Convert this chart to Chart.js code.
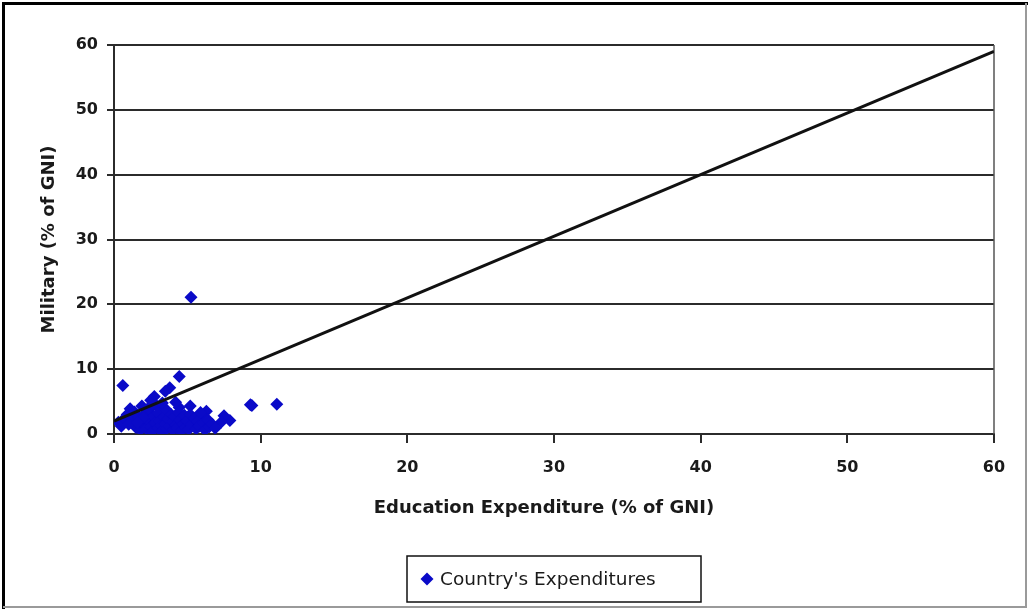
<!DOCTYPE html>
<html>
<head>
<meta charset="utf-8">
<script src="https://cdn.jsdelivr.net/npm/chart.js@4.4.1/dist/chart.umd.min.js"></script>
<style>
  html, body { margin: 0; padding: 0; background: #ffffff; overflow: hidden; }
  canvas { display: block; }
</style>
</head>
<body>
<canvas id="chart" width="1028" height="609"></canvas>
<script>
// Education spending vs. military spending, both as % of GNI, one entry per country
const educationPct = [
  5.25, 0.6, 4.45, 3.8, 3.5, 2.75, 2.5, 9.3, 9.4, 11.1,
  7.9, 7.5, 7.3, 5.2, 6.3, 6.0, 1.1, 1.9, 4.45, 3.2,
  0.3, 0.5, 0.7, 0.9, 1.2, 1.4, 1.5, 1.7, 1.8, 2.0,
  2.1, 2.2, 2.3, 2.4, 2.5, 2.6, 2.7, 2.8, 2.9, 3.0,
  3.0, 3.1, 3.2, 3.3, 3.4, 3.5, 3.5, 3.6, 3.7, 3.8,
  3.9, 4.0, 4.0, 4.1, 4.2, 4.3, 4.4, 4.5, 4.6, 4.7,
  4.8, 4.9, 5.0, 5.1, 5.2, 5.3, 5.5, 5.6, 5.7, 5.8,
  5.9, 6.1, 6.2, 6.4, 6.5, 6.7, 6.9, 2.0, 1.0, 1.6,
  3.3, 4.2, 2.6
];
const militaryPct = [
  21.1, 7.5, 8.85, 7.15, 6.6, 5.8, 5.2, 4.5, 4.4, 4.6,
  2.1, 2.8, 1.8, 4.3, 3.5, 2.8, 3.9, 4.3, 4.1, 3.6,
  1.8, 1.2, 2.4, 3.0, 2.0, 3.4, 1.0, 2.6, 0.6, 1.5,
  3.1, 0.8, 2.2, 3.8, 1.1, 0.4, 2.7, 1.7, 4.4, 0.9,
  3.2, 2.0, 1.3, 0.5, 2.6, 1.6, 3.9, 0.8, 2.3, 1.1,
  3.0, 0.6, 1.9, 2.7, 1.4, 0.9, 3.3, 2.2, 0.5, 1.6,
  2.9, 1.0, 2.0, 0.7, 3.0, 1.5, 2.4, 0.8, 1.9, 1.2,
  3.3, 1.7, 0.6, 2.2, 1.1, 1.5, 0.9, 2.5, 1.5, 1.8,
  4.8, 4.9, 4.6
];

// Reference line end points (education %, military %)
const refLineX = [0, 60];
const refLineY = [2, 59];

// Axis tick values
const xTicks = [0, 10, 20, 30, 40, 50, 60];
const yTicks = [0, 10, 20, 30, 40, 50, 60];

const seriesLabel = "Country's Expenditures";
const xTitle = 'Education Expenditure (% of GNI)';
const yTitle = 'Military (% of GNI)';

const FONT = '"DejaVu Sans", Verdana, sans-serif';
const BLUE = '#0a0ac8';
const GRID = '#2b2b2b';
const TEXT = '#1a1a1a';

const points = educationPct.map((x, i) => ({ x: x, y: militaryPct[i] }));
const linePts = refLineX.map((x, i) => ({ x: x, y: refLineY[i] }));

// Page frame, plot frame, x-axis caption and the boxed legend
const framePlugin = {
  id: 'frame',
  beforeDraw(chart) {
    const ctx = chart.ctx;
    ctx.save();
    ctx.fillStyle = '#ffffff';
    ctx.fillRect(0, 0, chart.width, chart.height);
    ctx.restore();
  },
  beforeDatasetsDraw(chart) {
    const { ctx, chartArea } = chart;
    ctx.save();
    ctx.strokeStyle = '#555555';
    ctx.lineWidth = 1.5;
    ctx.beginPath();
    ctx.moveTo(chartArea.right, chartArea.top);
    ctx.lineTo(chartArea.right, chartArea.bottom);
    ctx.stroke();
    ctx.restore();
  },
  afterDraw(chart) {
    const ctx = chart.ctx;
    const W = chart.width, H = chart.height;
    const area = chart.chartArea;
    ctx.save();

    // outer frame: dark on top/left, light grey on right/bottom
    ctx.strokeStyle = '#000000';
    ctx.lineWidth = 3;
    ctx.beginPath();
    ctx.moveTo(3.5, H);
    ctx.lineTo(3.5, 3.5);
    ctx.lineTo(W, 3.5);
    ctx.stroke();
    ctx.strokeStyle = '#9a9a9a';
    ctx.lineWidth = 2;
    ctx.beginPath();
    ctx.moveTo(3, H - 2);
    ctx.lineTo(W - 2, H - 2);
    ctx.lineTo(W - 2, 3);
    ctx.stroke();

    // x-axis caption, set slightly left of the plot centre
    ctx.fillStyle = TEXT;
    ctx.font = 'bold 18px ' + FONT;
    ctx.textAlign = 'center';
    ctx.textBaseline = 'middle';
    ctx.fillText(xTitle, (area.left + area.right) / 2 - 10, 508);

    // legend box
    const lx = 407, ly = 556, lw = 294, lh = 46;
    ctx.strokeStyle = '#111111';
    ctx.lineWidth = 1.5;
    ctx.strokeRect(lx, ly, lw, lh);
    const cy = ly + lh / 2;
    const mx = lx + 20;
    ctx.fillStyle = BLUE;
    ctx.beginPath();
    ctx.moveTo(mx - 6.5, cy);
    ctx.lineTo(mx, cy - 6.5);
    ctx.lineTo(mx + 6.5, cy);
    ctx.lineTo(mx, cy + 6.5);
    ctx.closePath();
    ctx.fill();
    ctx.fillStyle = TEXT;
    ctx.font = '18.5px ' + FONT;
    ctx.textAlign = 'left';
    ctx.fillText(seriesLabel, lx + 33, cy + 1);
    ctx.restore();
  }
};

new Chart(document.getElementById('chart'), {
  type: 'scatter',
  data: {
    datasets: [
      {
        type: 'line',
        label: 'Reference',
        data: linePts,
        borderColor: '#111111',
        borderWidth: 3,
        pointRadius: 0,
        fill: false,
        order: 0
      },
      {
        label: seriesLabel,
        data: points,
        pointStyle: 'rectRot',
        pointRadius: 6.5,
        pointHoverRadius: 6.5,
        backgroundColor: BLUE,
        borderColor: BLUE,
        borderWidth: 0,
        order: 1
      }
    ]
  },
  plugins: [framePlugin],
  options: {
    responsive: false,
    animation: false,
    events: [],
    devicePixelRatio: 1,
    layout: { padding: { left: 38.2, top: 45, right: 34, bottom: 75 } },
    plugins: {
      legend: { display: false },
      tooltip: { enabled: false }
    },
    scales: {
      x: {
        type: 'linear',
        min: 0,
        max: 60,
        afterBuildTicks(scale) { scale.ticks = xTicks.map(v => ({ value: v })); },
        afterFit(scale) { scale.height = 100; },
        ticks: {
          color: TEXT,
          font: { family: FONT, size: 16, weight: 'bold' },
          padding: 15,
          maxRotation: 0
        },
        grid: {
          drawOnChartArea: false,
          drawTicks: true,
          tickLength: 9,
          color: GRID,
          lineWidth: 2
        },
        border: { display: true, color: GRID, width: 2 }
      },
      y: {
        type: 'linear',
        min: 0,
        max: 60,
        afterBuildTicks(scale) { scale.ticks = yTicks.map(v => ({ value: v })); },
        afterFit(scale) { scale.width = 75.8; },
        ticks: {
          color: TEXT,
          font: { family: FONT, size: 16, weight: 'bold' },
          padding: 9
        },
        grid: {
          drawOnChartArea: true,
          drawTicks: true,
          tickLength: 7,
          color: GRID,
          lineWidth: 2
        },
        border: { display: true, color: GRID, width: 2 },
        title: {
          display: true,
          text: yTitle,
          color: TEXT,
          font: { family: FONT, size: 18, weight: 'bold' },
          padding: 0
        }
      }
    }
  }
});
</script>
</body>
</html>
